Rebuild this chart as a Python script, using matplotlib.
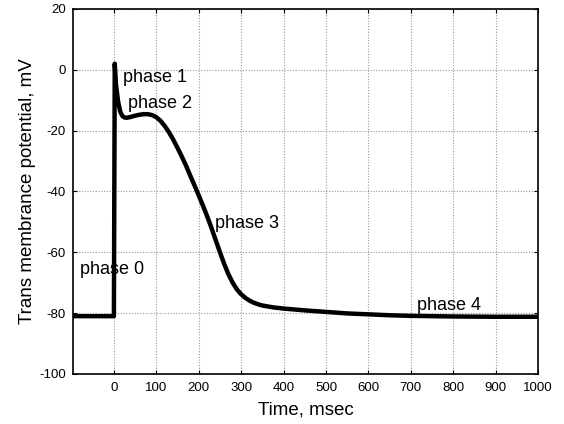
import matplotlib
matplotlib.use('Agg')
import matplotlib.pyplot as plt

plt.rcParams['font.family'] = ['Liberation Sans', 'DejaVu Sans']
plt.rcParams['axes.unicode_minus'] = False

# action potential
time_ms = [-97, 0, 2, 5, 10, 15, 20, 25, 30, 40, 50, 60, 70, 80, 90, 100,
           110, 120, 130, 140, 150, 160, 170, 180, 190, 200, 210, 220, 230,
           240, 250, 260, 270, 280, 290, 300, 310, 320, 330, 340, 350, 375,
           400, 450, 500, 550, 600, 650, 700, 800, 900, 1000]
potential_mv = [-81, -81, 2, -5, -10.5, -13.8, -15.2, -15.7, -15.8, -15.5,
                -15.1, -14.8, -14.6, -14.6, -14.9, -15.6, -16.8, -18.5, -20.6,
                -23, -25.7, -28.5, -31.5, -34.8, -38, -41.3, -44.7, -48.2,
                -52, -56, -60, -63.8, -67.2, -70, -72.2, -73.8, -75, -75.9,
                -76.6, -77.1, -77.5, -78.1, -78.5, -79.1, -79.6, -80.1, -80.4,
                -80.7, -80.9, -81.1, -81.2, -81.2]

phase_labels = ['phase 0', 'phase 1', 'phase 2', 'phase 3', 'phase 4']
phase_x = [-79, 22, 34, 239, 715]
phase_y = [-65.8, -2.6, -11.2, -50.4, -77.6]

xticks = list(range(0, 1001, 100))
yticks = list(range(-100, 21, 20))

fig = plt.figure(figsize=(5.64, 4.24), dpi=100)
ax = fig.add_axes([0.129, 0.118, 0.825, 0.861])

ax.plot(time_ms, potential_mv, color='black', lw=3.2)

for lab, x, y in zip(phase_labels, phase_x, phase_y):
    ax.text(x, y, lab, fontsize=13, va='center', ha='left')

ax.set_xlim(-97, 1000)
ax.set_ylim(-100, 20)
ax.set_xticks(xticks)
ax.set_yticks(yticks)
ax.tick_params(direction='in', length=3, top=True, right=True, labelsize=9.5)
ax.tick_params(axis='x', pad=6)
ax.tick_params(axis='y', pad=5)
ax.grid(True, color='#999999', linestyle=(0, (1, 1.5)), linewidth=0.8)
for s in ax.spines.values():
    s.set_linewidth(1.2)

ax.set_xlabel('Time, msec', fontsize=13.5, labelpad=5)
ax.set_ylabel('Trans membrance potential, mV', fontsize=13.5, labelpad=2)

plt.savefig('out.png', dpi=100)
plt.close()
